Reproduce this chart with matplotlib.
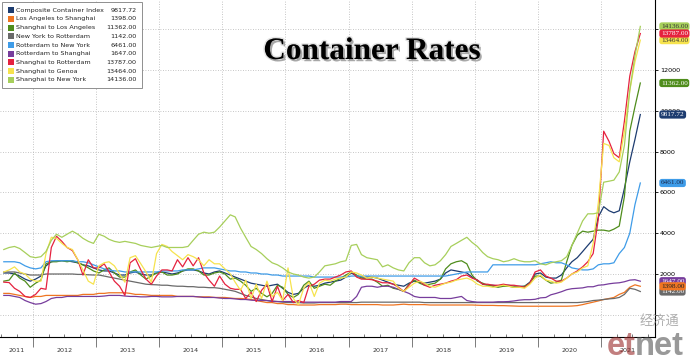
import numpy as np
import pandas as pd
import matplotlib
matplotlib.use("Agg")
import matplotlib.pyplot as plt
import matplotlib.dates as mdates
import matplotlib.patheffects as pe
from matplotlib.patches import Rectangle

# ---------------- data (monthly readings, Jul 2011 - Aug 2021) ----------------
dates = pd.date_range("2011-07-01", periods=122, freq="MS") + pd.Timedelta(days=15)

names = ["Composite Container Index", "Los Angeles to Shanghai", "Shanghai to Los Angeles",
         "New York to Rotterdam", "Rotterdam to New York", "Rotterdam to Shanghai",
         "Shanghai to Rotterdam", "Shanghai to Genoa", "Shanghai to New York"]
colors = ["#1d3c70", "#ef7522", "#4f8d1c", "#6a6a6a", "#3f9ce8", "#773d9c",
          "#e5223f", "#f6e34e", "#a7cf5b"]
badge_text_colors = ["white", "#222222", "white", "white", "#1d2d50", "white",
                     "white", "#333333", "#333333"]

composite = [2050, 2050, 2000, 1900, 1750, 1650,
             1750, 1900, 2400, 2600, 2650, 2650, 2650, 2600, 2550, 2450, 2400, 2300,
             2200, 2150, 2150, 2050, 1950, 1950, 2050, 2100, 2000, 1950, 1950, 2050,
             2100, 2050, 2000, 2050, 2150, 2200, 2200, 2150, 2050, 2000, 2100, 2150,
             2050, 1950, 1850, 1750, 1650, 1550, 1500, 1450, 1400, 1450, 1500, 1300,
             1100, 1000, 1050, 1300, 1450, 1400, 1450, 1550, 1600, 1650, 1700, 1850,
             2050, 1900, 1850, 1850, 1850, 1800, 1700, 1600, 1500, 1450, 1400, 1550,
             1650, 1600, 1550, 1600, 1650, 1750, 2050, 2200, 2150, 2100, 2050, 1850,
             1700, 1500, 1450, 1450, 1400, 1450, 1450, 1400, 1400, 1400, 1600, 2000,
             2050, 1850, 1800, 1800, 1950, 2300, 2600, 2800, 3100, 3400, 3700, 4800,
             5300, 5100, 5000, 5100, 6200, 7500, 8600, 9817.72]

la_shanghai = [1050, 1050, 1000, 950, 900, 850,
               900, 900, 950, 950, 950, 950, 950, 950, 950, 1000, 1000, 1000,
               1050, 1050, 1080, 1080, 1080, 1080, 1050, 1000, 1000, 980, 950, 950,
               950, 950, 950, 900, 900, 900, 900, 880, 880, 880, 850, 850,
               850, 820, 800, 800, 780, 750, 700, 650, 600, 600, 550, 550,
               500, 500, 480, 480, 480, 480, 500, 500, 500, 500, 520, 520,
               500, 500, 500, 500, 500, 500, 480, 480, 480, 500, 520, 500,
               500, 500, 500, 480, 480, 480, 480, 480, 480, 480, 480, 480,
               470, 460, 460, 460, 450, 450, 440, 430, 420, 420, 420, 420,
               420, 420, 420, 420, 420, 420, 430, 450, 500, 560, 620, 680,
               750, 800, 850, 1000, 1100, 1350, 1470, 1398.00]

shanghai_la = [1650, 1700, 2050, 1800, 1650, 1350,
               1550, 1700, 2500, 2600, 2600, 2650, 2600, 2650, 2550, 2450, 2300, 2150,
               2050, 2200, 2300, 2050, 1850, 1850, 2100, 2200, 1950, 1750, 1900, 2050,
               2100, 1950, 1950, 2000, 2150, 2250, 2250, 2150, 1950, 1950, 2050, 2100,
               2000, 1750, 1800, 1650, 1450, 1150, 1300, 1050, 880, 1050, 1450, 1350,
               1000, 850, 1000, 1450, 1650, 1300, 1400, 1500, 1450, 1650, 1800, 1950,
               2100, 1950, 1800, 1750, 1750, 1600, 1400, 1450, 1300, 1250, 1150, 1500,
               1700, 1550, 1450, 1500, 1550, 1750, 2250, 2500, 2600, 2650, 2500, 1950,
               1650, 1550, 1450, 1400, 1350, 1400, 1400, 1350, 1350, 1400, 1550, 1900,
               1900, 1700, 1550, 1600, 1700, 2600, 3400, 3900, 4100, 4050, 4100, 4150,
               4150, 4100, 4200, 4350, 5800, 9000, 10200, 11362.00]

newyork_rotterdam = [2100, 2100, 2100, 2050, 2000, 1950,
                     1950, 1950, 2000, 2000, 2000, 2000, 2000, 2000, 1980, 1980, 1960, 1950,
                     1950, 1900, 1850, 1800, 1750, 1700, 1650, 1600, 1550, 1500, 1480, 1470,
                     1450, 1450, 1420, 1400, 1400, 1380, 1380, 1350, 1350, 1330, 1330, 1300,
                     1250, 1200, 1150, 1050, 950, 880, 800, 750, 700, 680, 650, 620,
                     600, 600, 600, 580, 580, 580, 600, 600, 600, 600, 600, 600,
                     600, 600, 620, 620, 620, 620, 620, 620, 620, 620, 620, 620,
                     620, 620, 600, 600, 600, 600, 600, 600, 600, 600, 600, 600,
                     600, 600, 600, 600, 600, 600, 600, 600, 600, 600, 600, 600,
                     600, 600, 600, 600, 600, 600, 600, 600, 620, 650, 700, 720,
                     750, 780, 800, 850, 1000, 1300, 1250, 1142.00]

rotterdam_newyork = [2600, 2600, 2600, 2550, 2400, 2300,
                     2250, 2300, 2600, 2650, 2650, 2650, 2650, 2650, 2600, 2600, 2550, 2450,
                     2350, 2250, 2200, 2150, 2150, 2100, 2100, 2100, 2100, 2100, 2100, 2100,
                     2150, 2150, 2150, 2150, 2200, 2200, 2200, 2250, 2300, 2300, 2300, 2250,
                     2200, 2150, 2150, 2100, 2100, 2050, 2050, 2000, 2000, 1950, 1950, 1900,
                     1900, 1900, 1900, 1900, 1900, 1850, 1850, 1850, 1850, 1850, 1850, 1850,
                     1900, 1900, 1900, 1900, 1900, 1900, 1900, 1900, 1900, 1900, 1900, 1900,
                     1900, 1900, 1900, 1900, 1900, 1900, 1900, 1950, 2000, 2050, 2100, 2100,
                     2100, 2100, 2100, 2450, 2450, 2450, 2450, 2450, 2450, 2450, 2450, 2450,
                     2500, 2550, 2600, 2550, 2550, 2450, 2300, 2250, 2200, 2200, 2250, 2450,
                     2500, 2500, 2550, 3000, 3300, 4000, 5400, 6461.00]

rotterdam_shanghai = [950, 950, 900, 850, 700, 600,
                      520, 550, 650, 800, 850, 850, 900, 900, 900, 900, 900, 900,
                      900, 920, 950, 950, 950, 920, 900, 900, 880, 880, 900, 900,
                      880, 880, 880, 900, 900, 900, 900, 880, 850, 850, 850, 820,
                      800, 800, 780, 750, 750, 720, 700, 700, 700, 650, 650, 650,
                      650, 650, 620, 620, 620, 620, 620, 620, 620, 620, 650, 650,
                      650, 900, 1350, 1400, 1400, 1350, 1400, 1400, 1350, 1250, 1150, 1050,
                      900, 850, 850, 850, 850, 800, 800, 800, 850, 900, 700, 650,
                      620, 620, 620, 620, 640, 640, 650, 680, 720, 740, 740, 760,
                      830, 850, 980, 1050, 1130, 1230, 1280, 1300, 1320, 1375, 1375, 1450,
                      1470, 1520, 1550, 1570, 1620, 1700, 1720, 1647.00]

shanghai_rotterdam = [1600, 1580, 1300, 1150, 900, 850,
                      1000, 1300, 1250, 3300, 3850, 3600, 3300, 3150, 2700, 1950, 2700, 2300,
                      2300, 2500, 2100, 1650, 1400, 950, 2550, 2750, 2200, 1750, 1500, 1900,
                      2200, 2200, 2150, 2700, 2350, 2800, 2400, 2800, 2050, 1700, 1400, 1900,
                      1500, 1300, 1250, 1250, 800, 1100, 650, 1200, 1500, 650, 1400, 700,
                      1000, 600, 700, 600, 1400, 1500, 1700, 1750, 1750, 1850, 1950, 2100,
                      2150, 1850, 1750, 1750, 1720, 1650, 1570, 1570, 1500, 1350, 1150, 1450,
                      1800, 1650, 1450, 1350, 1450, 1500, 1550, 1650, 1720, 1900, 1950, 1800,
                      1700, 1500, 1500, 1450, 1450, 1500, 1450, 1450, 1400, 1350, 1550, 2100,
                      2200, 1900, 1800, 1650, 1650, 1800, 2000, 2150, 2350, 2600, 3000, 4700,
                      9000, 8500, 7900, 7700, 9500, 11700, 12900, 13787.00]

shanghai_genoa = [2100, 2200, 2350, 2100, 2000, 1750,
                  1650, 1650, 3000, 3800, 3750, 3500, 3300, 3200, 2700, 2200, 1650, 1500,
                  2400, 2550, 2600, 2400, 2000, 1600, 2800, 2900, 2500, 2100, 1600, 3000,
                  3450, 3350, 3100, 2900, 2700, 2950, 2850, 2700, 2400, 2700, 2500, 2500,
                  2250, 2000, 1600, 1200, 1700, 800, 1500, 800, 1650, 900, 1100, 700,
                  2300, 800, 500, 1300, 1600, 900, 1550, 1700, 1650, 1750, 1800, 1850,
                  2100, 2050, 1950, 1800, 1850, 1800, 1750, 1700, 1650, 1300, 1150, 1350,
                  1550, 1650, 1550, 1400, 1350, 1450, 1550, 1600, 1700, 1750, 1800, 1700,
                  1500, 1400, 1400, 1350, 1400, 1450, 1400, 1350, 1350, 1300, 1500, 1800,
                  1950, 1700, 1650, 1550, 1600, 1800, 2000, 2100, 2300, 2400, 3500, 5500,
                  8400, 8300, 7700, 7500, 9000, 11000, 12400, 13464.00]

shanghai_newyork = [3200, 3300, 3350, 3250, 3050, 2850,
                    2800, 2850, 3100, 3650, 3950, 3800, 3950, 4100, 3950, 3750, 3600, 3500,
                    3950, 3850, 3700, 3600, 3550, 3600, 3550, 3500, 3400, 3350, 3300, 3350,
                    3400, 3300, 3300, 3300, 3300, 3350, 3650, 3950, 4050, 4000, 4050, 4300,
                    4600, 4900, 4800, 4250, 3800, 3350, 3200, 3000, 2750, 2550, 2450, 2300,
                    2100, 2000, 1950, 1850, 1800, 1850, 2100, 2400, 2450, 2500, 2600, 2650,
                    3400, 3450, 2950, 2800, 2750, 2700, 2350, 2450, 2300, 2200, 2150, 2550,
                    2800, 2800, 2550, 2400, 2450, 2650, 2950, 3350, 3500, 3650, 3800, 3550,
                    3350, 3050, 2850, 2750, 2700, 2600, 2650, 2750, 2650, 2600, 2600, 2650,
                    2500, 2450, 2550, 2600, 2650, 2850, 3400, 4000, 4600, 4950, 4950, 5000,
                    6500, 6550, 6600, 7000, 8300, 11000, 12700, 14136.00]

all_series = [composite, la_shanghai, shanghai_la, newyork_rotterdam, rotterdam_newyork,
              rotterdam_shanghai, shanghai_rotterdam, shanghai_genoa, shanghai_newyork]
for s in all_series:
    assert len(s) == len(dates), len(s)

y_ticks = [0, 2000, 4000, 6000, 8000, 10000, 12000, 14000]
year_labels = [str(y) for y in range(2011, 2022)]

# ---------------- figure ----------------
W, H = 690, 355
fig = plt.figure(figsize=(W / 100, H / 100), dpi=100)
fig.patch.set_facecolor("white")
ax = fig.add_axes([0, 18 / H, 655 / W, 337 / H])

for vals, col in zip(all_series, colors):
    ax.plot(dates, vals, color=col, lw=0.9, solid_joinstyle="round", zorder=3)

xmin, xmax = pd.Timestamp("2011-06-24"), pd.Timestamp("2021-11-09")
ax.set_xlim(xmin, xmax)
ax.set_ylim(-1088, 15431)

for side in ["left", "top"]:
    ax.spines[side].set_visible(False)
for side in ["right", "bottom"]:
    ax.spines[side].set_color("black")
    ax.spines[side].set_linewidth(0.8)

ax.yaxis.tick_right()
ax.set_yticks(y_ticks)
ax.set_yticklabels(["" if v == 0 else str(v) for v in y_ticks])
ax.tick_params(axis="y", which="major", length=2, width=0.6, pad=1.5,
               labelsize=4.6, colors="black")

ax.xaxis.set_major_locator(mdates.YearLocator())
ax.xaxis.set_minor_locator(mdates.MonthLocator(bymonth=[4, 7, 10]))
ax.tick_params(axis="x", which="major", length=7, width=0.6, direction="out",
               labelbottom=False, color="#666666")
ax.tick_params(axis="x", which="minor", length=2.5, width=0.5, direction="in",
               color="#444444")
ax.grid(True, which="major", axis="both", linestyle=(0, (1, 2)), color="#b4b4b4", lw=0.6)

# year labels centred in the visible part of each year
xtr = ax.get_xaxis_transform()
for lab in year_labels:
    y0 = max(pd.Timestamp(f"{lab}-01-01"), xmin)
    y1 = min(pd.Timestamp(f"{int(lab) + 1}-01-01"), xmax)
    mid = y0 + (y1 - y0) / 2
    ax.text(mdates.date2num(mid), -14 / 337, lab, transform=xtr, ha="center",
            va="center", fontsize=4.6, color="#333333", clip_on=False)

# value badges on the right axis
ytr = ax.get_yaxis_transform()
badge_order = [3, 5, 1, 4, 0, 2, 8, 7, 6]
for i in badge_order:
    v = all_series[i][-1]
    ax.text(1.009, v, f"{v:.2f}", transform=ytr, ha="left", va="center",
            fontsize=5.2, family="Liberation Serif", color=badge_text_colors[i],
            bbox=dict(boxstyle="round,pad=0.22,rounding_size=0.35", fc=colors[i],
                      ec="none"),
            clip_on=False, zorder=10)

# title
fig.text(372 / W, 1 - 59 / H, "Container Rates", ha="center", va="baseline",
         fontsize=22.5, fontweight="bold", family="Liberation Serif", color="black",
         path_effects=[pe.SimplePatchShadow(offset=(1.4, -1.6), shadow_rgbFace="#444444",
                                            alpha=0.45),
                       pe.Stroke(linewidth=2.2, foreground="#9a9a9a", alpha=0.25),
                       pe.Normal()], zorder=20)

# legend box
def fx(x):
    return x / W


def fy(y):
    return 1 - y / H


fig.patches.append(Rectangle((fx(2), fy(88)), fx(140), 86 / H, transform=fig.transFigure,
                             fc="white", ec="#8f8f8f", lw=0.7, zorder=5))
row_y0, row_dy = 10.3, 8.68
for i, (nm, col) in enumerate(zip(names, colors)):
    yc = row_y0 + i * row_dy
    fig.patches.append(Rectangle((fx(7.5), fy(yc + 3)), 6 / W, 6 / H,
                                 transform=fig.transFigure, fc=col, ec="none", zorder=6))
    fig.text(fx(15.5), fy(yc), nm, ha="left", va="center", fontsize=4.6,
             color="#222222", zorder=7)
    fig.text(fx(136.5), fy(yc), f"{all_series[i][-1]:.2f}", ha="right", va="center",
             fontsize=4.6, color="#222222", zorder=7)

# watermark
fig.text(fx(659), fy(321), "经济通", ha="center", va="center", fontsize=9.5,
         family=["Noto Sans CJK SC", "DejaVu Sans"], color="#a0a0a0", alpha=0.85, zorder=30)
fig.text(fx(636), fy(355), "et", ha="right", va="baseline", fontsize=23.5,
         fontweight="bold", family="Liberation Sans", color="#9a2a2a", alpha=0.6, zorder=30)
fig.text(fx(635), fy(355), "net", ha="left", va="baseline", fontsize=23.5,
         fontweight="bold", family="Liberation Sans", color="#555555", alpha=0.6, zorder=30)

fig.savefig("out.png", dpi=100)
